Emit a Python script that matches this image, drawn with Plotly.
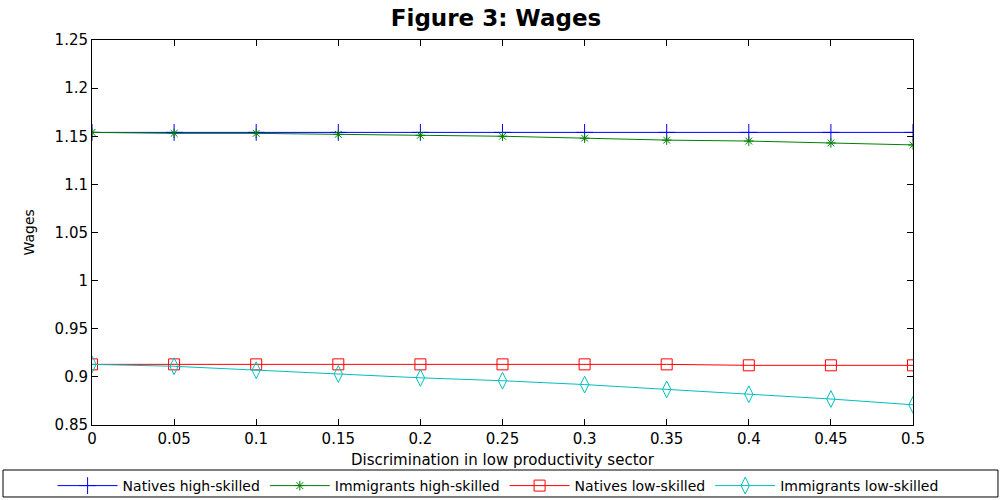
import plotly.graph_objects as go

x_vals = [0, 0.05, 0.1, 0.15, 0.2, 0.25, 0.3, 0.35, 0.4, 0.45, 0.5]
natives_high = [1.154, 1.154, 1.154, 1.154, 1.154, 1.154, 1.154, 1.154, 1.154, 1.154, 1.154]
immigrants_high = [1.154, 1.153, 1.153, 1.152, 1.151, 1.150, 1.148, 1.146, 1.145, 1.143, 1.141]
natives_low = [0.913, 0.913, 0.913, 0.913, 0.913, 0.913, 0.913, 0.913, 0.912, 0.912, 0.912]
immigrants_low = [0.913, 0.911, 0.907, 0.903, 0.899, 0.896, 0.892, 0.887, 0.882, 0.877, 0.871]

x_ticks = [0, 0.05, 0.1, 0.15, 0.2, 0.25, 0.3, 0.35, 0.4, 0.45, 0.5]
x_ticktext = ["0", "0.05", "0.1", "0.15", "0.2", "0.25", "0.3", "0.35", "0.4", "0.45", "0.5"]
y_ticks = [0.85, 0.9, 0.95, 1.0, 1.05, 1.1, 1.15, 1.2, 1.25]
y_ticktext = ["0.85", "0.9", "0.95", "1", "1.05", "1.1", "1.15", "1.2", "1.25"]

title_text = "Figure 3: Wages"
x_label = "Discrimination in low productivity sector"
y_label = "Wages"

FONT = "DejaVu Sans, Verdana, sans-serif"

fig = go.Figure()
series = [
    ("Natives high-skilled", natives_high, "#0000FF", "cross-thin-open", 12),
    ("Immigrants high-skilled", immigrants_high, "#008000", "asterisk-open", 8),
    ("Natives low-skilled", natives_low, "#FF0000", "square-open", 11),
    ("Immigrants low-skilled", immigrants_low, "#00BFBF", "diamond-tall-open", 12),
]
for name, ys, color, sym, size in series:
    fig.add_trace(go.Scatter(
        x=x_vals, y=ys, name=name, mode="lines+markers",
        line=dict(color=color, width=1),
        marker=dict(symbol=sym, size=size, color=color, line=dict(color=color, width=1)),
    ))

axis_common = dict(
    showgrid=False, zeroline=False, showline=True, linecolor="#000000", linewidth=1,
    mirror="ticks", ticks="inside", ticklen=6, tickcolor="#000000", automargin=False,
    tickfont=dict(family=FONT, size=15, color="#000000"),
)
fig.update_xaxes(range=[0, 0.5], tickvals=x_ticks, ticktext=x_ticktext, **axis_common)
fig.update_yaxes(range=[0.85, 1.25], tickvals=y_ticks, ticktext=y_ticktext, **axis_common)

fig.add_annotation(text=x_label, xref="paper", yref="paper", x=0.5, y=0,
                   xanchor="center", yanchor="middle", yshift=-35, showarrow=False,
                   font=dict(family=FONT, size=15, color="#000000"))
fig.add_annotation(text=y_label, xref="paper", yref="paper", x=0, y=0.5,
                   xanchor="center", yanchor="middle", xshift=-64, textangle=-90,
                   showarrow=False, font=dict(family=FONT, size=14, color="#000000"))

# legend frame spanning the full width (like the reference)
fig.add_shape(type="rect", xref="paper", yref="paper",
              x0=-0.1084, x1=1.1035, y0=-0.187, y1=-0.1169,
              line=dict(color="#000000", width=1), fillcolor="#FFFFFF", layer="below")

fig.update_layout(
    width=1000, height=500,
    margin=dict(l=92, r=87, t=40, b=75, autoexpand=False),
    paper_bgcolor="#FFFFFF", plot_bgcolor="#FFFFFF",
    title=dict(text="<b>" + title_text + "</b>", x=0.496, xanchor="center", y=0.964, yanchor="middle",
               font=dict(family=FONT, size=23, color="#000000")),
    font=dict(family=FONT, color="#000000"),
    legend=dict(orientation="h", xref="paper", yref="paper", x=-0.048, xanchor="left",
                y=-0.1169, yanchor="top",
                borderwidth=0, bgcolor="rgba(0,0,0,0)",
                font=dict(family=FONT, size=14, color="#000000"),
                itemwidth=60),
    showlegend=True,
)

fig.write_html("out.html", config={"displayModeBar": False},
               post_script="document.body.style.margin='0';document.body.style.padding='0';")
